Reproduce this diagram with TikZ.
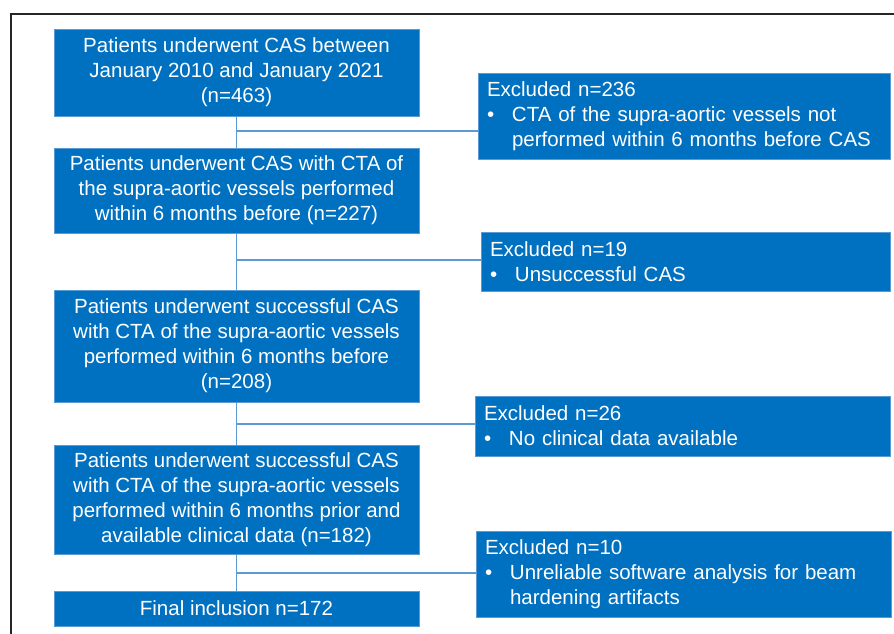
\documentclass[tikz,border=0pt]{standalone}
\usepackage{fontspec}
\setmainfont{Liberation Sans}
\definecolor{boxblue}{HTML}{0070C0}
\definecolor{edgeblue}{HTML}{5B9BD5}
\begin{document}
\begin{tikzpicture}[x=1pt,y=-1pt,
  mainbox/.style={rectangle,fill=boxblue,draw=edgeblue,line width=0.8pt,text=white,
    minimum width=365pt,inner sep=0pt,align=center,
    font=\fontsize{20.5}{25}\selectfont},
  exclbox/.style={rectangle,fill=boxblue,draw=edgeblue,line width=0.8pt,text=white,
    inner xsep=9pt,inner ysep=0pt,align=left,
    font=\fontsize{20.5}{25}\selectfont},
  conn/.style={draw=edgeblue,line width=1.4pt}]
\useasboundingbox (0,0) rectangle (894,634);
\fill[white] (0,0) rectangle (894,634);
\draw[line width=1.6pt,black!85] (11,640) -- (11,14) -- (900,14);
\newcommand{\bul}{\makebox[25pt][l]{\textbullet}}
% main boxes
\node[mainbox,minimum height=87pt] (b1) at (236.5,72.5)
  {Patients underwent CAS between\\January 2010 and January 2021\\(n=463)};
\node[mainbox,minimum height=85pt] (b2) at (236.5,190.5)
  {Patients underwent CAS with CTA of\\the supra-aortic vessels performed\\within 6 months before (n=227)};
\node[mainbox,minimum height=112pt] (b3) at (236.5,346)
  {Patients underwent successful CAS\\with CTA of the supra-aortic vessels\\performed within 6 months before\\(n=208)};
\node[mainbox,minimum height=109pt] (b4) at (236.5,499.5)
  {Patients underwent successful CAS\\with CTA of the supra-aortic vessels\\performed within 6 months prior and\\available clinical data (n=182)};
\node[mainbox,minimum height=35pt] (b5) at (236.5,608.5)
  {Final inclusion n=172};
% excluded boxes
\node[exclbox,text width=394pt,minimum height=86pt] (e1) at (684,116)
  {Excluded n=236\\\bul CTA of the supra-aortic vessels not\\\hspace*{25pt}performed within 6 months before CAS};
\node[exclbox,text width=391pt,minimum height=59pt] (e2) at (685.5,261.5)
  {Excluded n=19\\\bul Unsuccessful CAS};
\node[exclbox,text width=397pt,minimum height=60pt] (e3) at (682.5,426)
  {Excluded n=26\\\bul No clinical data available};
\node[exclbox,text width=397pt,minimum height=86pt] (e4) at (683.5,574)
  {Excluded n=10\\\bul Unreliable software analysis for beam\\\hspace*{25pt}hardening artifacts};
% junctions
\coordinate (j1) at (237,131);
\coordinate (j2) at (237,260);
\coordinate (j3) at (237,424);
\coordinate (j4) at (237,573);
% connectors
\draw[conn] (b1.south) -- (b2.north);
\draw[conn] (b2.south) -- (b3.north);
\draw[conn] (b3.south) -- (b4.north);
\draw[conn] (b4.south) -- (b5.north);
\draw[conn] (j1) -- (e1.west |- j1);
\draw[conn] (j2) -- (e2.west |- j2);
\draw[conn] (j3) -- (e3.west |- j3);
\draw[conn] (j4) -- (e4.west |- j4);
\end{tikzpicture}
\end{document}
